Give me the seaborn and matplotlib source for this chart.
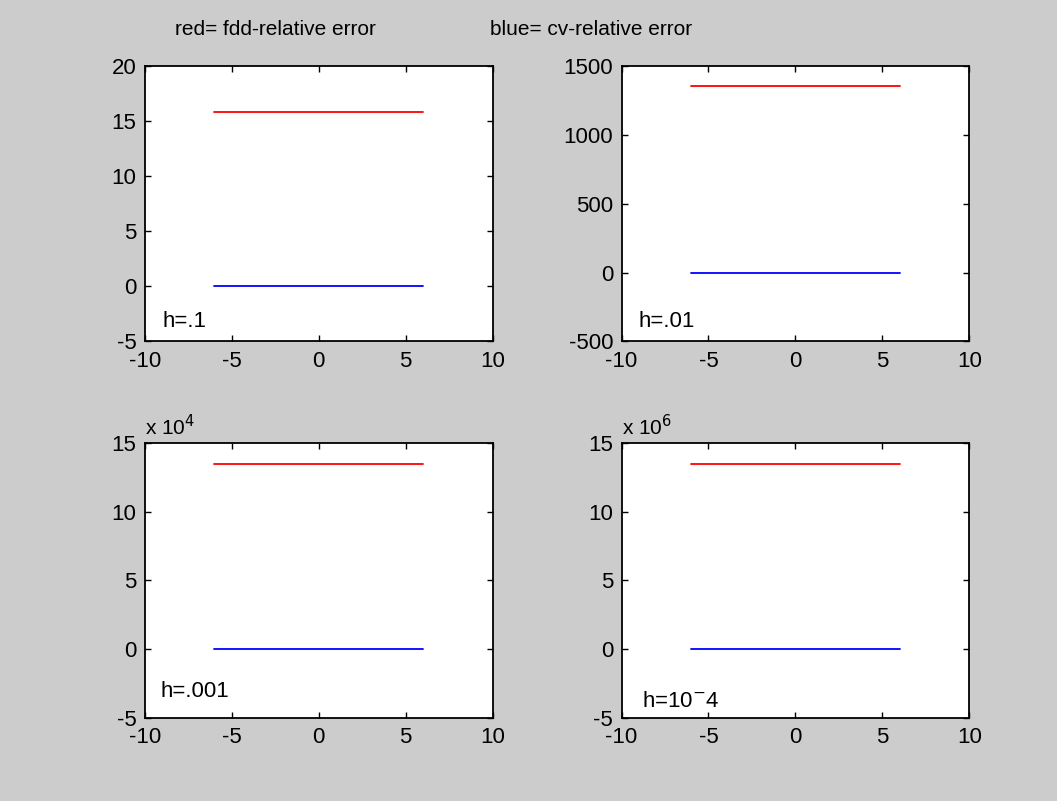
import numpy as np
import pandas as pd
import matplotlib
matplotlib.use("Agg")
import matplotlib.pyplot as plt
import seaborn as sns
from matplotlib.ticker import FuncFormatter

# data
x_ends = [-6, 6]
h_labels = ["h=.1", "h=.01", "h=.001", "h=10$^{-}$4"]
fdd_err = [15.9, 1358.0, 134600.0, 13460000.0]   # red
cv_err = [0.0, 0.0, 0.0, 0.0]                     # blue
y_limits = [(-5, 20), (-500, 1500), (-5e4, 15e4), (-5e6, 15e6)]
y_ticks = [np.arange(-5, 21, 5), np.arange(-500, 1501, 500),
           np.arange(-5, 16, 5) * 1e4, np.arange(-5, 16, 5) * 1e6]
y_scale = [1, 1, 1e4, 1e6]
x_ticks = [-10, -5, 0, 5, 10]

BG = '#cccccc'
sns.set_theme(style='white')
plt.rcParams['font.family'] = ['Liberation Sans', 'DejaVu Sans']
plt.rcParams['axes.unicode_minus'] = False
plt.rcParams['text.color'] = 'black'

fig = plt.figure(figsize=(10.57, 8.01), dpi=100, facecolor=BG)

positions = [[0.137, 0.574, 0.329, 0.343],
             [0.588, 0.574, 0.329, 0.343],
             [0.137, 0.104, 0.329, 0.343],
             [0.588, 0.104, 0.329, 0.343]]
label_pos = [(0.05, 0.07), (0.05, 0.07), (0.045, 0.095), (0.058, 0.06)]

for i in range(4):
    ax = fig.add_axes(positions[i])
    ax.set_facecolor('white')
    df = pd.DataFrame({'x': x_ends,
                       'red': [fdd_err[i]] * 2,
                       'blue': [cv_err[i]] * 2})
    sns.lineplot(data=df, x='x', y='red', color='#ff0000', lw=1.3, ax=ax)
    sns.lineplot(data=df, x='x', y='blue', color='#0000ff', lw=1.3, ax=ax)

    ax.set_xlim(-10, 10)
    ax.set_ylim(*y_limits[i])
    ax.set_xticks(x_ticks)
    ax.set_yticks(y_ticks[i])
    s = y_scale[i]
    ax.yaxis.set_major_formatter(FuncFormatter(lambda v, p, s=s: f'{v / s:g}'))
    ax.set_xlabel('')
    ax.set_ylabel('')
    ax.tick_params(direction='in', length=4, width=1, top=True, right=True,
                   bottom=True, left=True, labelsize=16, colors='black')
    ax.tick_params(axis='x', pad=7)
    ax.tick_params(axis='y', pad=6)
    for sp in ax.spines.values():
        sp.set_color('black')
        sp.set_linewidth(1.3)
    ax.grid(False)

    lx, ly = label_pos[i]
    ax.text(lx, ly, h_labels[i], transform=ax.transAxes, fontsize=16,
            ha='left', va='center', color='black')
    if s != 1:
        exp = int(round(np.log10(s)))
        ax.text(0.0, 1.015, f'x 10$^{{{exp}}}$', transform=ax.transAxes,
                fontsize=15, ha='left', va='bottom', color='black')

fig.text(0.166, 0.963, 'red= fdd-relative error', fontsize=15,
         ha='left', va='center', color='black')
fig.text(0.464, 0.963, 'blue= cv-relative error', fontsize=15,
         ha='left', va='center', color='black')

fig.savefig('out.png', dpi=100, facecolor=BG)
